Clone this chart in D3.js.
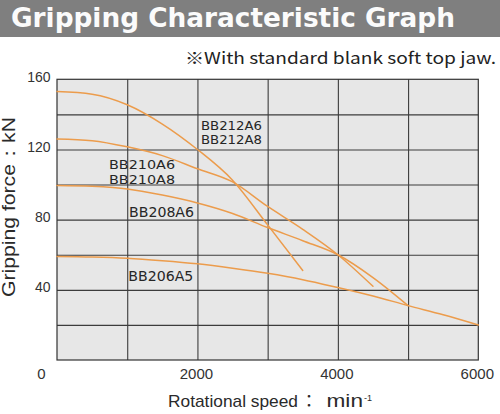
<!DOCTYPE html>
<html><head><meta charset="utf-8">
<script src="https://cdn.jsdelivr.net/npm/d3@7"></script>
<style>
html,body{margin:0;padding:0;background:#fff;}
svg{display:block;}
</style></head><body>
<svg id="chart" width="500" height="414"></svg>
<script>
// Gripping force (kN) against rotational speed (min-1), per chuck model
const speedBB212 = [0, 500, 1000, 1500, 2000, 2500, 3000, 3500];
const forceBB212 = [153, 151.5, 145.5, 134.5, 120, 102.5, 77, 51];
const speedBB210 = [0, 500, 1000, 1500, 2000, 2500, 3000, 3500, 4000, 4500];
const forceBB210 = [126, 125, 121.5, 116.5, 109, 101.5, 87.5, 74.5, 60, 42];
const speedBB208 = [0, 500, 1000, 1500, 2000, 2500, 3000, 3500, 4000, 4500, 5000];
const forceBB208 = [99.5, 99, 97.5, 94, 89.5, 83.5, 75.5, 68, 60, 47, 31];
const speedBB206 = [0, 500, 1000, 1500, 2000, 2500, 3000, 3500, 4000, 4500, 5000, 5500, 6000];
const forceBB206 = [59, 58.7, 58, 56.6, 54.8, 52.3, 49.4, 45.8, 41.3, 36.5, 31, 25.8, 20];
const seriesNames = [["BB212A6", "BB212A8"], ["BB210A6", "BB210A8"], ["BB208A6"], ["BB206A5"]];

const xTickValues = [2000, 4000, 6000];
const yTickValues = [40, 80, 120, 160];
const xGridValues = [1000, 2000, 3000, 4000, 5000];
const yGridValues = [20, 40, 60, 80, 100, 120, 140];

const titleText = "Gripping Characteristic Graph";
const noteText = "※With standard blank soft top jaw.";
const yTitleText = "Gripping force：kN";
const xTitleParts = ["Rotational speed", "：", "min", "-1"];

// label anchors in data units (rpm, kN), font size, drawn width and line gap
const labelLayout = [
  {at: [2050, 131], size: 12, width: 61, lineGap: 14},
  {at: [741, 108.7], size: 12.6, width: 66, lineGap: 14.7},
  {at: [1026, 81.7], size: 14, width: 65, lineGap: 15},
  {at: [1016, 45.2], size: 14, width: 65, lineGap: 15}
];

const series = [
  {speed: speedBB212, force: forceBB212},
  {speed: speedBB210, force: forceBB210},
  {speed: speedBB208, force: forceBB208},
  {speed: speedBB206, force: forceBB206}
].map((s, i) => ({
  names: seriesNames[i],
  points: s.speed.map((v, j) => [v, s.force[j]])
}));

const svg = d3.select("#chart");
const W = 500;
const plotL = 57, plotR = 478.3, plotT = 79.3, plotB = 360;

const x = d3.scaleLinear().domain([0, 6000]).range([plotL, plotR]);
const y = d3.scaleLinear().domain([0, 160]).range([plotB, plotT]);

// header bar
svg.append("rect").attr("x", 0).attr("y", 0).attr("width", W).attr("height", 37)
  .attr("fill", "#7f7f7f");
svg.append("text").attr("x", 11).attr("y", 27)
  .attr("font-family", "'DejaVu Sans', sans-serif").attr("font-weight", "bold")
  .attr("font-size", 26).attr("fill", "#fbfbfb")
  .attr("textLength", 444).attr("lengthAdjust", "spacingAndGlyphs")
  .text(titleText);

svg.append("text").attr("x", 185).attr("y", 63.5)
  .attr("font-family", "'Noto Sans CJK JP', 'DejaVu Sans', sans-serif")
  .attr("font-size", 16).attr("fill", "#222")
  .attr("textLength", 311).attr("lengthAdjust", "spacingAndGlyphs")
  .text(noteText);

// plot area
svg.append("rect").attr("x", plotL).attr("y", plotT)
  .attr("width", plotR - plotL).attr("height", plotB - plotT)
  .attr("fill", "#e7e7e7");

const grid = svg.append("g").attr("class", "grid");
grid.append("g").attr("transform", `translate(0,${plotB})`)
  .call(d3.axisBottom(x).tickValues(xGridValues).tickSize(-(plotB - plotT)).tickFormat(""))
  .call(g => g.select(".domain").remove())
  .call(g => g.selectAll("line").attr("stroke", "#3c3c3c").attr("stroke-width", 1.1));
grid.append("g").attr("transform", `translate(${plotL},0)`)
  .call(d3.axisLeft(y).tickValues(yGridValues).tickSize(-(plotR - plotL)).tickFormat(""))
  .call(g => g.select(".domain").remove())
  .call(g => g.selectAll("line").attr("stroke", "#3c3c3c").attr("stroke-width", 1.1));

svg.append("rect").attr("x", plotL).attr("y", plotT)
  .attr("width", plotR - plotL).attr("height", plotB - plotT)
  .attr("fill", "none").attr("stroke", "#333").attr("stroke-width", 1.2);

// curves
const line = d3.line().x(d => x(d[0])).y(d => y(d[1])).curve(d3.curveMonotoneX);
svg.append("g").selectAll("path").data(series).join("path")
  .attr("d", d => line(d.points))
  .attr("fill", "none").attr("stroke", "#ec9c4c").attr("stroke-width", 1.5)
  .attr("stroke-linecap", "round");

// series labels, one text per line
const labels = svg.append("g").attr("font-family", "'DejaVu Sans', sans-serif")
  .attr("fill", "#262626");
series.forEach((s, i) => {
  const L = labelLayout[i];
  s.names.forEach((n, k) => {
    labels.append("text")
      .attr("x", x(L.at[0])).attr("y", y(L.at[1]) + k * L.lineGap)
      .attr("font-size", L.size)
      .attr("textLength", L.width).attr("lengthAdjust", "spacingAndGlyphs")
      .text(n);
  });
});

// axes tick labels
const fontAxis = "'Liberation Sans', Arial, sans-serif";
svg.append("g").attr("transform", `translate(${plotL},0)`)
  .call(d3.axisLeft(y).tickValues(yTickValues).tickSize(0).tickPadding(6.5))
  .call(g => g.select(".domain").remove())
  .call(g => g.selectAll("text").attr("font-family", fontAxis).attr("font-size", 14)
    .attr("fill", "#333").attr("dy", "0.13em"));

svg.append("g").attr("transform", `translate(-1.5,${plotB})`)
  .call(d3.axisBottom(x).tickValues(xTickValues).tickFormat(d3.format("d"))
    .tickSize(0).tickPadding(8))
  .call(g => g.select(".domain").remove())
  .call(g => g.selectAll("text").attr("font-family", fontAxis).attr("font-size", 15)
    .attr("fill", "#333"));

// shared origin label
svg.append("text").attr("x", x(0) - 15.7).attr("y", y(0) + 19.3)
  .attr("text-anchor", "middle").attr("font-family", fontAxis).attr("font-size", 15)
  .attr("fill", "#333").text("0");

// axis titles
svg.append("text")
  .attr("transform", `translate(15,${(117 + 297) / 2}) rotate(-90)`)
  .attr("text-anchor", "middle").attr("font-family", fontAxis).attr("font-size", 18)
  .attr("fill", "#2a2a2a").attr("textLength", 180).attr("lengthAdjust", "spacingAndGlyphs")
  .text(yTitleText);

const xTitle = svg.append("g").attr("font-family", fontAxis).attr("fill", "#2a2a2a");
xTitle.append("text").attr("x", 168).attr("y", 406.5).attr("font-size", 17)
  .attr("textLength", 130).attr("lengthAdjust", "spacingAndGlyphs").text(xTitleParts[0]);
xTitle.append("text").attr("x", 309).attr("y", 406.5).attr("font-size", 17)
  .attr("text-anchor", "middle")
  .attr("font-family", "'Noto Sans CJK JP', sans-serif").text(xTitleParts[1]);
xTitle.append("text").attr("x", 326.5).attr("y", 406.5).attr("font-size", 19)
  .attr("textLength", 36.5).attr("lengthAdjust", "spacingAndGlyphs").text(xTitleParts[2]);
xTitle.append("text").attr("x", 364).attr("y", 400.5).attr("font-size", 9)
  .text(xTitleParts[3]);
</script>
</body></html>
